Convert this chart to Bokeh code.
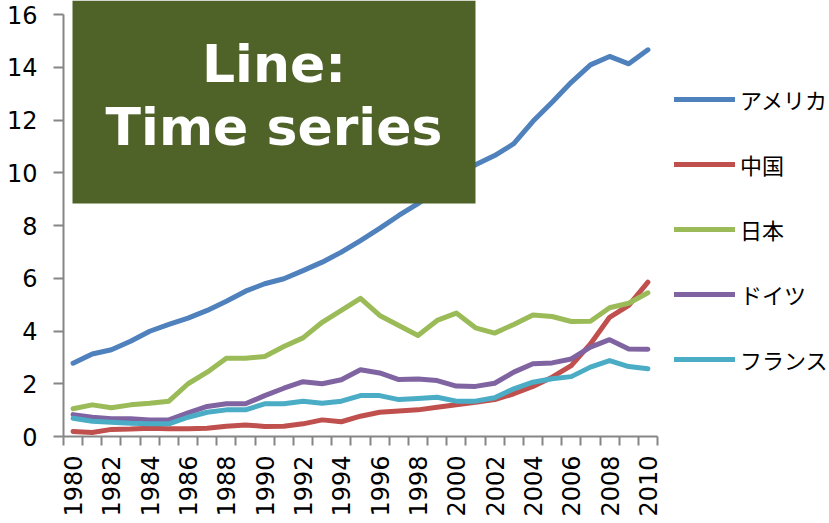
import math
from bokeh.plotting import figure
from bokeh.models import Range1d, FixedTicker, Legend, LegendItem, BoxAnnotation, Label
from bokeh.embed import file_html
from bokeh.resources import INLINE

# ---- data ----
years = list(range(1980, 2011))
series_names = ["アメリカ", "中国", "日本", "ドイツ", "フランス"]
usa = [2.78, 3.13, 3.29, 3.61, 3.99, 4.25, 4.49, 4.78, 5.13, 5.51, 5.79, 5.98, 6.29, 6.61, 6.99, 7.43,
       7.89, 8.38, 8.83, 9.35, 9.90, 10.30, 10.65, 11.10, 11.95, 12.67, 13.43, 14.09, 14.41, 14.13, 14.66]
china = [0.19, 0.15, 0.27, 0.28, 0.31, 0.29, 0.29, 0.31, 0.39, 0.44, 0.38, 0.39, 0.48, 0.63, 0.56, 0.77,
         0.92, 0.97, 1.01, 1.11, 1.20, 1.30, 1.40, 1.62, 1.90, 2.25, 2.69, 3.51, 4.52, 4.97, 5.85]
japan = [1.05, 1.20, 1.09, 1.20, 1.26, 1.34, 2.00, 2.44, 2.97, 2.97, 3.03, 3.41, 3.74, 4.33, 4.78, 5.24,
         4.59, 4.21, 3.83, 4.40, 4.68, 4.12, 3.92, 4.25, 4.61, 4.55, 4.36, 4.37, 4.88, 5.05, 5.45]
germany = [0.83, 0.73, 0.67, 0.67, 0.63, 0.63, 0.90, 1.14, 1.24, 1.24, 1.55, 1.83, 2.08, 2.00, 2.15, 2.53,
           2.41, 2.16, 2.18, 2.12, 1.91, 1.90, 2.02, 2.44, 2.76, 2.79, 2.94, 3.39, 3.67, 3.32, 3.31]
france = [0.69, 0.58, 0.54, 0.50, 0.48, 0.48, 0.73, 0.92, 1.01, 1.01, 1.24, 1.24, 1.34, 1.26, 1.34, 1.55,
          1.55, 1.40, 1.44, 1.49, 1.34, 1.34, 1.47, 1.81, 2.06, 2.19, 2.27, 2.63, 2.88, 2.65, 2.57]
all_series = [usa, china, japan, germany, france]
y_ticks = [0, 2, 4, 6, 8, 10, 12, 14, 16]
x_ticks = list(range(1980, 2011, 2))
title_lines = ["Line:", "Time series"]

# ---- styles / geometry (pixels) ----
colors = ["#4F81BD", "#C0504D", "#9BBB59", "#8064A2", "#4BACC6"]
axis_color = "#868686"
W, H = 829, 523
frame_left, frame_bottom = 63, 436
px_per_unit = 26.375          # y pixels per unit
px_per_year = 19.161          # x pixels per category
y_end = frame_bottom / px_per_unit
x_start = years[0] - 0.5
x_end = x_start + (W - frame_left) / px_per_year

def xd(px):
    return x_start + (px - frame_left) / px_per_year

def yd(py):
    return (frame_bottom - py) / px_per_unit

p = figure(width=W, height=H, output_backend="svg", toolbar_location=None,
           x_range=Range1d(x_start, x_end), y_range=Range1d(0, y_end),
           min_border_left=frame_left, min_border_right=0, min_border_top=0,
           min_border_bottom=H - frame_bottom)
p.outline_line_color = None
p.xgrid.visible = False
p.ygrid.visible = False
p.background_fill_color = "white"
p.border_fill_color = "white"

renderers = []
for vals, c in zip(all_series, colors):
    r = p.line(years, vals, line_color=c, line_width=5, line_cap="round", line_join="round")
    renderers.append(r)

# y axis
ya = p.yaxis[0]
ya.ticker = FixedTicker(ticks=y_ticks)
ya.bounds = (y_ticks[0], y_ticks[-1])
ya.axis_line_color = axis_color
ya.axis_line_width = 2
ya.major_tick_line_color = axis_color
ya.major_tick_line_width = 2
ya.major_tick_out = 10
ya.major_tick_in = 0
ya.minor_tick_line_color = None
ya.minor_tick_out = 0
ya.minor_tick_in = 0
ya.major_label_text_font = "DejaVu Sans"
ya.major_label_text_font_size = "24px"
ya.major_label_text_color = "black"
ya.major_label_standoff = 16

# x axis (ticks between categories, labels at category centres)
xa = p.xaxis[0]
xa.ticker = FixedTicker(ticks=x_ticks, minor_ticks=[y - 0.5 for y in years] + [years[-1] + 0.5])
xa.bounds = (years[0] - 0.5, years[-1] + 0.5)
xa.axis_line_color = axis_color
xa.axis_line_width = 2
xa.major_tick_out = 0
xa.major_tick_in = 0
xa.major_tick_line_color = None
xa.minor_tick_line_color = axis_color
xa.minor_tick_line_width = 2
xa.minor_tick_out = 9
xa.minor_tick_in = 0
xa.major_label_orientation = math.pi / 2
xa.major_label_text_font = "DejaVu Sans"
xa.major_label_text_font_size = "24px"
xa.major_label_text_color = "black"
xa.major_label_standoff = 10

# title box
box = BoxAnnotation(left=xd(72), right=xd(475), bottom=yd(203), top=y_end,
                    fill_color="#4F6228", fill_alpha=1.0, line_color=None)
p.add_layout(box)
for txt, base_px in zip(title_lines, [63, 126]):
    p.add_layout(Label(x=xd(273.5), y=yd(base_px), text=txt, text_align="center",
                       text_baseline="alphabetic", text_color="white", text_font="DejaVu Sans",
                       text_font_style="bold", text_font_size="52px"))

legend = Legend(items=[LegendItem(label=n, renderers=[r]) for n, r in zip(series_names, renderers)],
                location=(674 - frame_left, frame_bottom - 375), glyph_width=61, glyph_height=32,
                label_height=32, spacing=33, label_standoff=5, padding=0, margin=0,
                border_line_color=None, background_fill_alpha=0, label_text_font="Noto Sans CJK JP",
                label_text_font_size="22px", label_text_color="black")
p.add_layout(legend)

open("out.html", "w").write(file_html(p, INLINE))
